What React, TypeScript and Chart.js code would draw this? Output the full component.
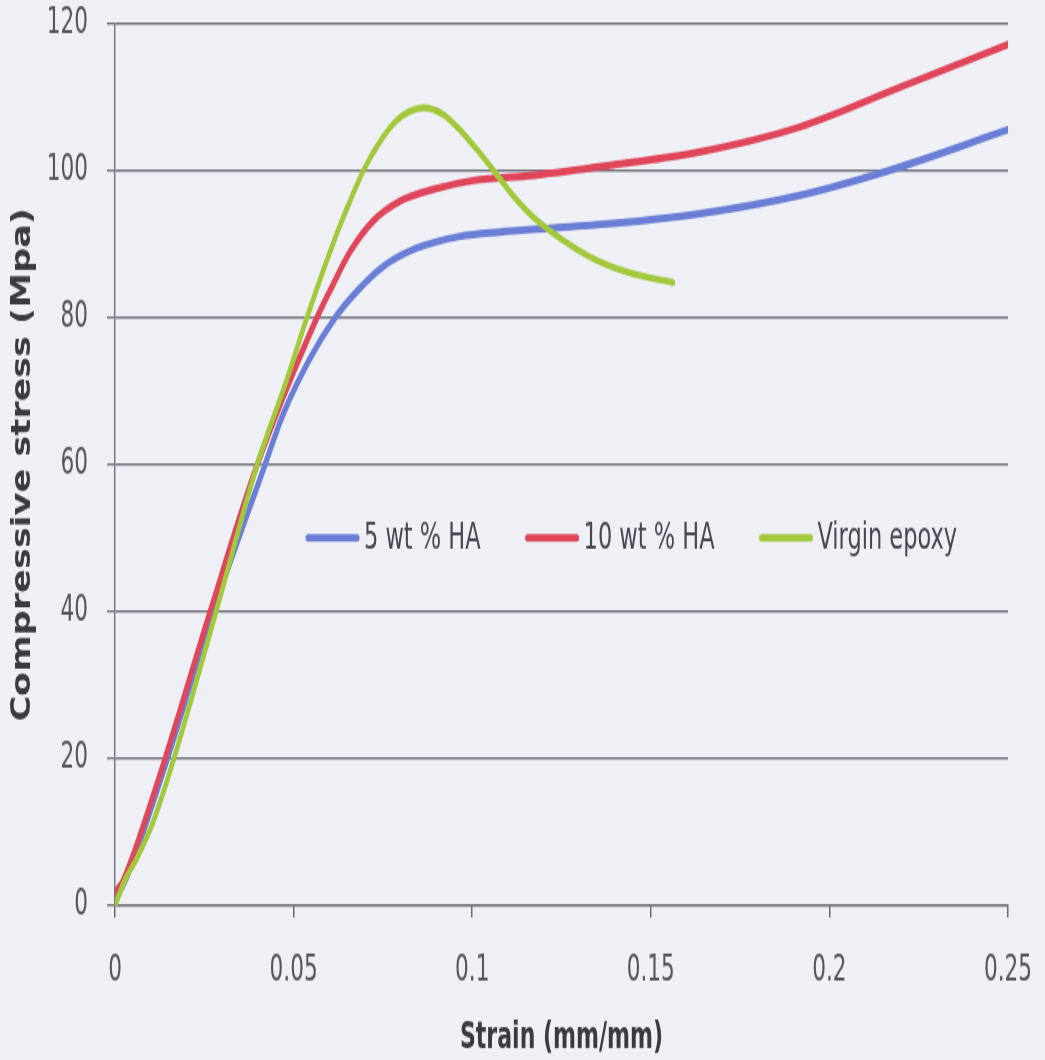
import React, { useEffect, useRef } from "react";
import { Chart, registerables } from "chart.js";

Chart.register(...registerables);

// ---- data ----
const seriesLabels = ["5 wt % HA", "10 wt % HA", "Virgin epoxy"];

const strain5 = [0, 0.0025, 0.005, 0.0147, 0.0275, 0.042, 0.047, 0.0546, 0.0616, 0.0677, 0.0751, 0.0845, 0.0966, 0.1078, 0.1218, 0.1405, 0.1638, 0.1918, 0.217, 0.25];
const stress5 = [0.8, 3.0, 6.0, 20, 40, 60, 66.8, 74.5, 80, 83.6, 87.0, 89.5, 91.1, 91.7, 92.2, 92.9, 94.2, 96.7, 100.1, 105.6];

const strain10 = [0, 0.0022, 0.0048, 0.014, 0.0266, 0.0398, 0.0565, 0.0607, 0.0658, 0.0723, 0.0798, 0.0891, 0.1003, 0.1171, 0.1405, 0.1638, 0.1918, 0.2198, 0.25];
const stress10 = [1.8, 3.3, 6.5, 20, 40, 60, 80, 84.2, 89.0, 93.2, 95.9, 97.5, 98.7, 99.4, 100.9, 102.6, 106.0, 111.4, 117.2];

const strainVirgin = [0, 0.0028, 0.0062, 0.0106, 0.0165, 0.0283, 0.0398, 0.0481, 0.0537, 0.0611, 0.0658, 0.0695, 0.0742, 0.0789, 0.0825, 0.0863, 0.0919, 0.0975, 0.1022, 0.1069, 0.1124, 0.1185, 0.133, 0.1442, 0.1562];
const stressVirgin = [0, 3.5, 6.5, 11.3, 20, 40, 60, 71.6, 80, 90.2, 95.9, 100.0, 104.0, 106.9, 108.1, 108.6, 107.7, 105.1, 102.4, 99.5, 96.1, 93.1, 88.3, 86.1, 84.8];

const xTicks = [0, 0.05, 0.1, 0.15, 0.2, 0.25];
const yTicks = [0, 20, 40, 60, 80, 100, 120];
const xTitle = "Strain (mm/mm)";
const yTitle = "Compressive stress (Mpa)";

const COLORS = ["#6a7ed6", "#e0465a", "#a3c83c"];
const COND = '"DejaVu Sans Condensed", "DejaVu Sans", sans-serif';

// The reference picture is vertically stretched: the canvas is drawn at a
// lower internal height and displayed at full height.
const W = 1045;
const H_CSS = 1060;
const H = 707;

const toPoints = (xs: number[], ys: number[]) => xs.map((x, i) => ({ x, y: ys[i] }));

const inlineLegend = {
  id: "inlineLegend",
  afterDraw(chart: any) {
    const ctx = chart.ctx;
    const area = chart.chartArea;
    let x = area.left + 190;
    const y = area.top + 342.7;
    ctx.save();
    ctx.font = `25px ${COND}`;
    ctx.textBaseline = "middle";
    ctx.textAlign = "left";
    chart.data.datasets.forEach((ds: any) => {
      ctx.strokeStyle = ds.borderColor;
      ctx.lineWidth = 5;
      ctx.lineCap = "round";
      ctx.beginPath();
      ctx.moveTo(x + 3, y);
      ctx.lineTo(x + 52, y);
      ctx.stroke();
      ctx.fillStyle = "#474750";
      ctx.fillText(ds.label, x + 59, y + 0.5);
      x += 59 + ctx.measureText(ds.label).width + 44;
    });
    ctx.restore();
  },
};

const noScalePadding = (s: any) => {
  s.paddingTop = 0;
  s.paddingBottom = 0;
  s.paddingLeft = 0;
  s.paddingRight = 0;
};

export default function App() {
  const ref = useRef<HTMLCanvasElement | null>(null);
  useEffect(() => {
    if (!ref.current) return;
    const chart = new Chart(ref.current, {
      type: "line",
      data: {
        datasets: [
          { label: seriesLabels[0], data: toPoints(strain5, stress5), borderColor: COLORS[0], order: 3 },
          { label: seriesLabels[1], data: toPoints(strain10, stress10), borderColor: COLORS[1], order: 2 },
          { label: seriesLabels[2], data: toPoints(strainVirgin, stressVirgin), borderColor: COLORS[2], order: 1, borderWidth: 4.6 },
        ].map((d: any) => ({
          borderWidth: 5,
          pointRadius: 0,
          fill: false,
          cubicInterpolationMode: "monotone",
          borderCapStyle: "round",
          ...d,
        })),
      },
      options: {
        animation: false,
        responsive: false,
        devicePixelRatio: 1,
        layout: { padding: { top: 16, right: 37, left: 0, bottom: 0 } },
        plugins: { legend: { display: false }, tooltip: { enabled: false } },
        scales: {
          x: {
            type: "linear",
            min: 0,
            max: 0.25,
            afterBuildTicks: (s: any) => { s.ticks = xTicks.map((v) => ({ value: v })); },
            afterFit: (s: any) => { s.height = 103; noScalePadding(s); },
            ticks: {
              font: { family: COND, size: 24 },
              color: "#55555c",
              padding: 21,
              maxRotation: 0,
              callback: (v: any) => String(v),
            },
            grid: { drawOnChartArea: false, drawTicks: true, tickLength: 8, color: "#6a6a72", lineWidth: 1.5 },
            border: { display: true, color: "#6a6a72", width: 1.3 },
            title: {
              display: true,
              text: xTitle,
              font: { family: COND, size: 24.5, weight: "bold" },
              color: "#3a3a40",
              padding: { top: 0, bottom: 0 },
            },
          },
          y: {
            type: "linear",
            min: 0,
            max: 120,
            afterBuildTicks: (s: any) => { s.ticks = yTicks.map((v) => ({ value: v })); },
            afterFit: (s: any) => { s.width = 115; noScalePadding(s); },
            ticks: {
              font: { family: COND, size: 24 },
              color: "#55555c",
              padding: 19,
            },
            grid: { color: "#70707a", lineWidth: 1.4, tickLength: 8 },
            border: { display: true, color: "#7a7a84", width: 1.5 },
            title: {
              display: true,
              text: yTitle,
              font: { family: COND, size: 26, weight: "bold" },
              color: "#3a3a40",
              padding: { top: 7.5, bottom: 0 },
            },
          },
        },
      },
      plugins: [inlineLegend],
    } as any);
    return () => chart.destroy();
  }, []);

  return (
    <div style={{ position: "fixed", left: 0, top: 0, width: W, height: H_CSS, background: "#eef0f6" }}>
      <canvas
        ref={ref}
        width={W}
        height={H}
        style={{ display: "block", width: `${W}px`, height: `${H_CSS}px` }}
      />
    </div>
  );
}
